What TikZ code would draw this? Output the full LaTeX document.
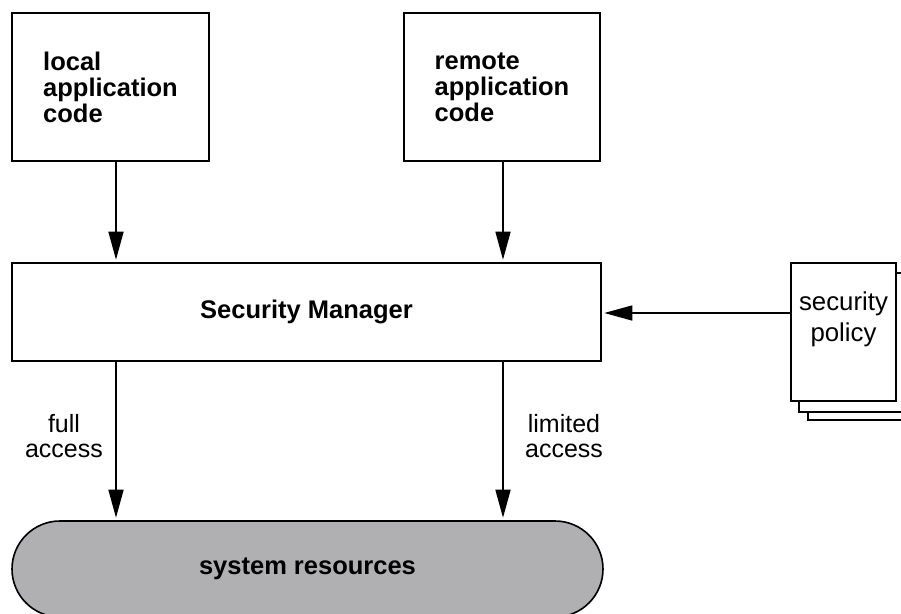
\documentclass[tikz,border=0pt]{standalone}
\usepackage{fontspec}
\setmainfont{Liberation Sans}
\usetikzlibrary{arrows.meta,shapes.misc}
\definecolor{pillgray}{RGB}{176,175,178}
\begin{document}
\begin{tikzpicture}[x=1pt,y=-1pt,
  box/.style={draw=black, line width=1.6pt, fill=white, inner sep=0pt},
  boldtxt/.style={font=\fontsize{25.5}{26}\selectfont\bfseries},
  regtxt/.style={font=\fontsize{25}{25}\selectfont},
  arr/.style={line width=1.6pt, -{Triangle[length=28pt,width=15pt]}, shorten >=2.5pt},
]
\useasboundingbox (0,0) rectangle (901,613);
\begin{scope}
\clip (0,0) rectangle (901,613);
% top boxes
\node[box, boldtxt, minimum width=197pt, minimum height=148pt, align=left] (local) at (110.5,87) {local\\application\\code};
\node[box, boldtxt, minimum width=196pt, minimum height=148pt, align=left] (remote) at (502,87) {remote\\application\\code};
% security manager
\node[box, boldtxt, minimum width=589pt, minimum height=98pt] (sm) at (306.5,312) {Security Manager};
% policy pages
\draw[box] (808,283) rectangle (930,420);
\draw[box] (799,273) rectangle (930,412);
\node[box, minimum width=105pt, minimum height=138pt] (policy) at (843.5,332) {};
\node[font=\fontsize{25.8}{31}\selectfont, align=center, anchor=north, inner sep=0pt] (policytxt) at (843.5,292) {security\\policy};
% system resources
\node[draw=black, line width=1.6pt, fill=pillgray, rounded rectangle, minimum width=591pt, minimum height=96pt, inner sep=0pt, boldtxt] (res) at (307.5,569) {system resources};
% coordinates
\coordinate (xa) at (116,0);
\coordinate (xb) at (503,0);
\coordinate (ya) at (0,313);
% arrows
\draw[arr] (local.south -| xa) -- (sm.north -| xa);
\draw[arr] (remote.south -| xb) -- (sm.north -| xb);
\draw[arr] (sm.south -| xa) -- (res.north -| xa);
\draw[arr] (sm.south -| xb) -- (res.north -| xb);
\draw[arr] (policy.west |- ya) -- (sm.east |- ya);
% labels
\node[regtxt, align=center, anchor=north, inner sep=0pt] (full) at (64,414) {full\\access};
\node[regtxt, align=center, anchor=north, inner sep=0pt] (limited) at (564,414) {limited\\access};
\end{scope}
\end{tikzpicture}
\end{document}
